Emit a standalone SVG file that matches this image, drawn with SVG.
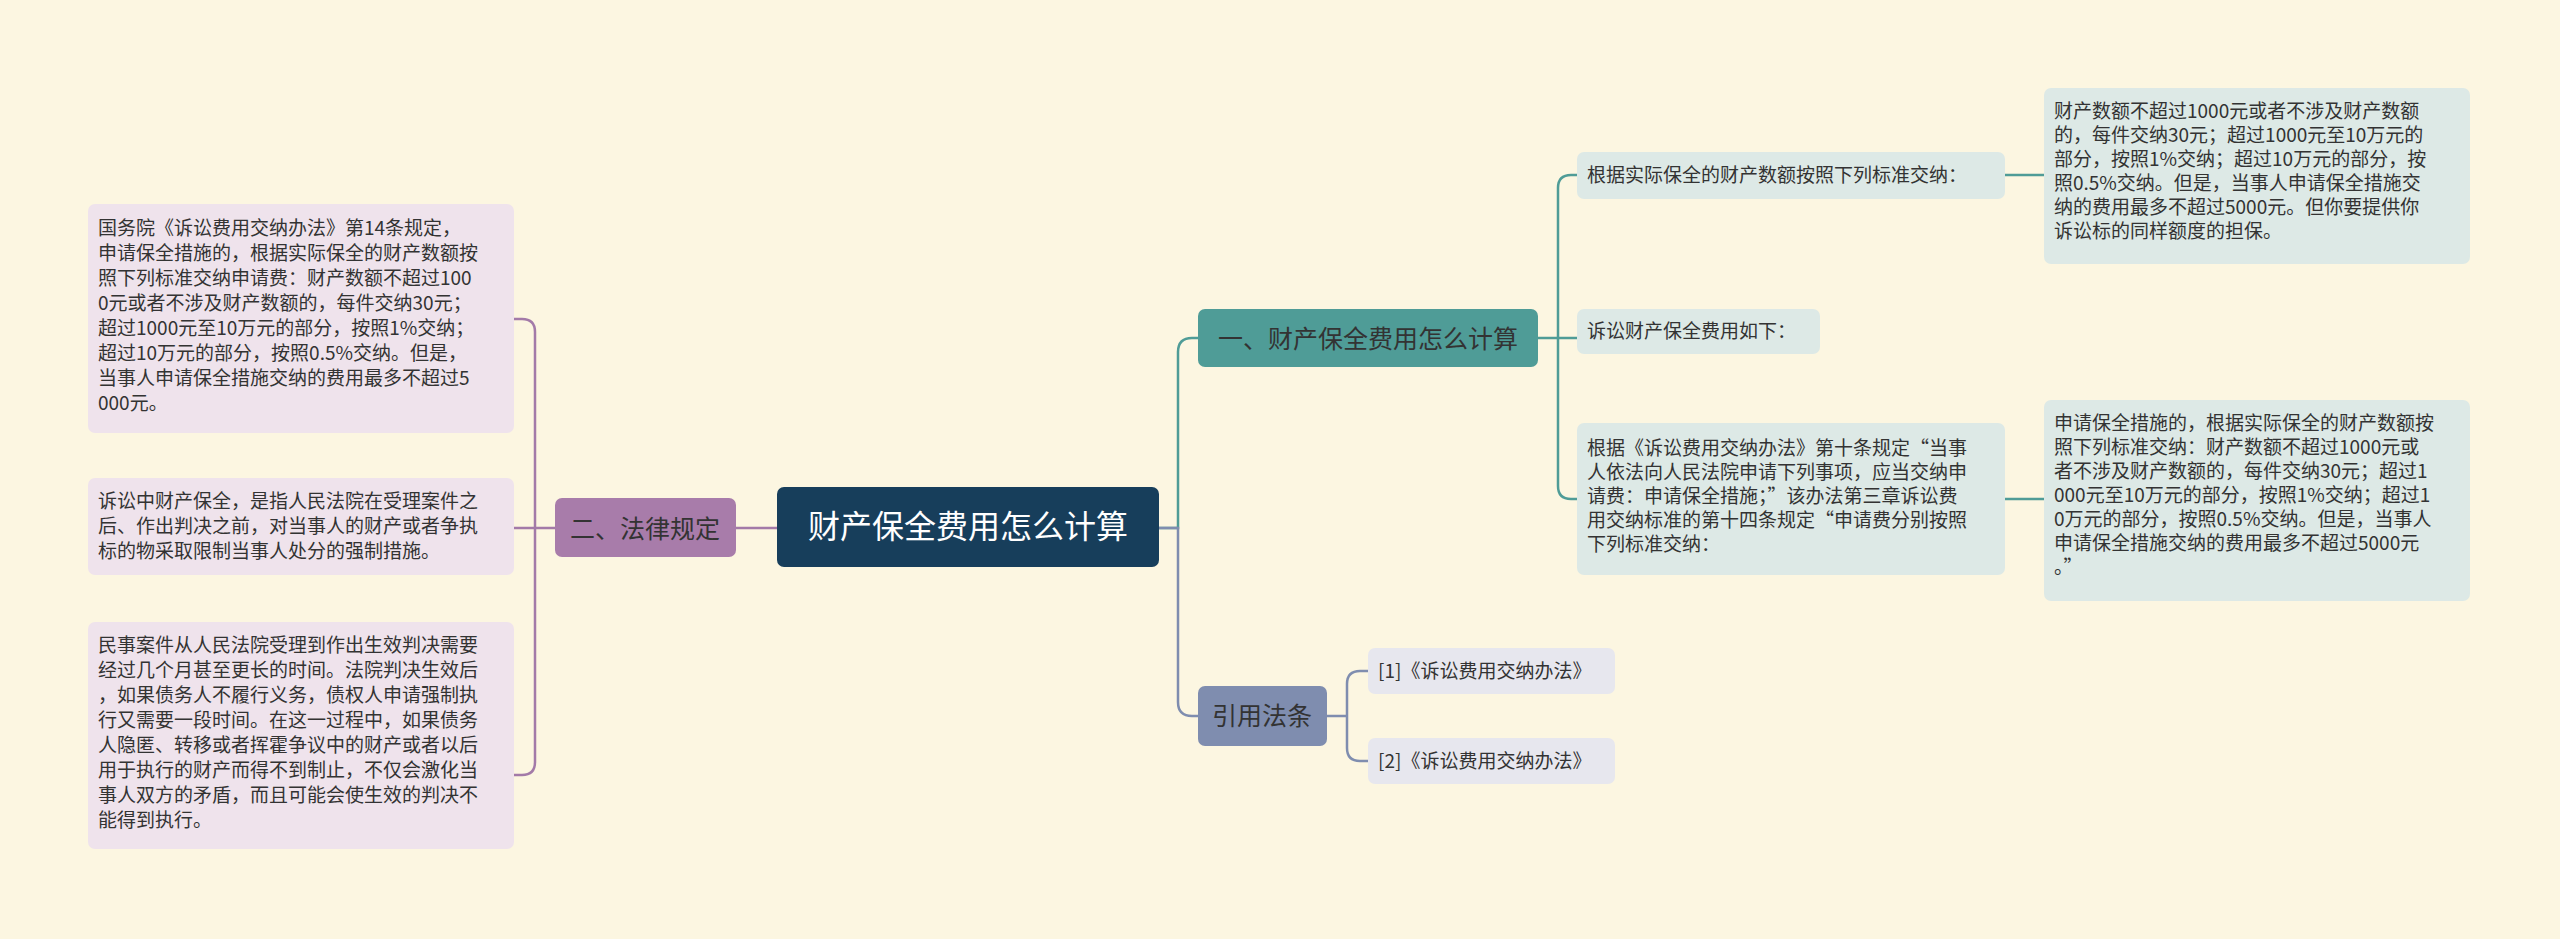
<svg xmlns="http://www.w3.org/2000/svg" width="2560" height="939" viewBox="0 0 2560 939">
<style>
text{font-family:"Noto Sans CJK SC","Noto Sans",sans-serif;}
.s{font-size:19px;fill:#333;}
.c{fill:none;stroke-width:2.5;}
.t{stroke:#4f9c97;}
.p{stroke:#a37aa8;}
.b{stroke:#7f8daf;}
</style>
<rect width="2560" height="939" fill="#fcf6e1"/>
<g id="connectors">
<path class="c p" d="M555 528 H1159"/>
<path class="c t" d="M1159 528 H1178 V352 Q1178 338 1192 338 H1198"/>
<path class="c b" d="M1159 528 H1178 V702 Q1178 716 1192 716 H1198"/>
<path class="c p" d="M555 528 H535 M514 319 H522 Q535 319 535 332 V762 Q535 775 522 775 H514 M514 528 H535"/>
<path class="c t" d="M1538 338 H1558 V188 Q1558 175 1571 175 H1577 M1558 338 H1577 M1558 338 V486 Q1558 499 1571 499 H1577"/>
<path class="c t" d="M2005 175 H2044 M2005 499 H2044"/>
<path class="c b" d="M1327 716 H1347 V684 Q1347 671 1360 671 H1368 M1347 716 V748 Q1347 761 1360 761 H1368"/>
</g>
<g id="center"><rect x="777" y="487" width="382" height="80" rx="7" fill="#173e5b"/><text x="968" y="538" font-size="32" fill="#fff" text-anchor="middle">财产保全费用怎么计算</text></g>
<g id="n2"><rect x="555" y="498" width="181" height="59" rx="7" fill="#a87caa"/><text x="645" y="538" font-size="25" fill="#333" text-anchor="middle">二、法律规定</text></g>
<g id="n1"><rect x="1198" y="309" width="340" height="58" rx="7" fill="#4f9c97"/><text x="1368" y="348" font-size="25" fill="#333" text-anchor="middle">一、财产保全费用怎么计算</text></g>
<g id="n3"><rect x="1198" y="686" width="129" height="60" rx="7" fill="#7f8daf"/><text x="1262" y="725" font-size="25" fill="#333" text-anchor="middle">引用法条</text></g>
<g id="l1"><rect x="88" y="204" width="426" height="229" rx="7" fill="#efe3ec"/>
<text class="s"><tspan x="98" y="235">国务院《诉讼费用交纳办法》第14条规定，</tspan><tspan x="98" y="260">申请保全措施的，根据实际保全的财产数额按</tspan><tspan x="98" y="285">照下列标准交纳申请费：财产数额不超过100</tspan><tspan x="98" y="310">0元或者不涉及财产数额的，每件交纳30元；</tspan><tspan x="98" y="335">超过1000元至10万元的部分，按照1%交纳；</tspan><tspan x="98" y="360">超过10万元的部分，按照0.5%交纳。但是，</tspan><tspan x="98" y="385">当事人申请保全措施交纳的费用最多不超过5</tspan><tspan x="98" y="410">000元。</tspan></text></g>
<g id="l2"><rect x="88" y="478" width="426" height="97" rx="7" fill="#efe3ec"/>
<text class="s"><tspan x="98" y="508">诉讼中财产保全，是指人民法院在受理案件之</tspan><tspan x="98" y="533">后、作出判决之前，对当事人的财产或者争执</tspan><tspan x="98" y="558">标的物采取限制当事人处分的强制措施。</tspan></text></g>
<g id="l3"><rect x="88" y="622" width="426" height="227" rx="7" fill="#efe3ec"/>
<text class="s"><tspan x="98" y="652">民事案件从人民法院受理到作出生效判决需要</tspan><tspan x="98" y="677">经过几个月甚至更长的时间。法院判决生效后</tspan><tspan x="98" y="702">，如果债务人不履行义务，债权人申请强制执</tspan><tspan x="98" y="727">行又需要一段时间。在这一过程中，如果债务</tspan><tspan x="98" y="752">人隐匿、转移或者挥霍争议中的财产或者以后</tspan><tspan x="98" y="777">用于执行的财产而得不到制止，不仅会激化当</tspan><tspan x="98" y="802">事人双方的矛盾，而且可能会使生效的判决不</tspan><tspan x="98" y="827">能得到执行。</tspan></text></g>
<g id="r1"><rect x="1577" y="152" width="428" height="47" rx="7" fill="#dde9e6"/><text class="s" x="1587" y="182">根据实际保全的财产数额按照下列标准交纳：</text></g>
<g id="r2"><rect x="1577" y="309" width="243" height="45" rx="7" fill="#dde9e6"/><text class="s" x="1587" y="338">诉讼财产保全费用如下：</text></g>
<g id="r3"><rect x="1577" y="423" width="428" height="152" rx="7" fill="#dde9e6"/>
<text class="s"><tspan x="1587" y="455">根据《诉讼费用交纳办法》第十条规定“当事</tspan><tspan x="1587" y="479">人依法向人民法院申请下列事项，应当交纳申</tspan><tspan x="1587" y="503">请费：申请保全措施；”该办法第三章诉讼费</tspan><tspan x="1587" y="527">用交纳标准的第十四条规定“申请费分别按照</tspan><tspan x="1587" y="551">下列标准交纳：</tspan></text></g>
<g id="rr1"><rect x="2044" y="88" width="426" height="176" rx="7" fill="#dde9e6"/>
<text class="s"><tspan x="2054" y="118">财产数额不超过1000元或者不涉及财产数额</tspan><tspan x="2054" y="142">的，每件交纳30元；超过1000元至10万元的</tspan><tspan x="2054" y="166">部分，按照1%交纳；超过10万元的部分，按</tspan><tspan x="2054" y="190">照0.5%交纳。但是，当事人申请保全措施交</tspan><tspan x="2054" y="214">纳的费用最多不超过5000元。但你要提供你</tspan><tspan x="2054" y="238">诉讼标的同样额度的担保。</tspan></text></g>
<g id="rr2"><rect x="2044" y="400" width="426" height="201" rx="7" fill="#dde9e6"/>
<text class="s"><tspan x="2054" y="430">申请保全措施的，根据实际保全的财产数额按</tspan><tspan x="2054" y="454">照下列标准交纳：财产数额不超过1000元或</tspan><tspan x="2054" y="478">者不涉及财产数额的，每件交纳30元；超过1</tspan><tspan x="2054" y="502">000元至10万元的部分，按照1%交纳；超过1</tspan><tspan x="2054" y="526">0万元的部分，按照0.5%交纳。但是，当事人</tspan><tspan x="2054" y="550">申请保全措施交纳的费用最多不超过5000元</tspan><tspan x="2054" y="574">。”</tspan></text></g>
<g id="c1"><rect x="1368" y="648" width="247" height="46" rx="7" fill="#e7e7ee"/><text class="s" x="1378" y="678">[1]《诉讼费用交纳办法》</text></g>
<g id="c2"><rect x="1368" y="738" width="247" height="46" rx="7" fill="#e7e7ee"/><text class="s" x="1378" y="768">[2]《诉讼费用交纳办法》</text></g>
</svg>
